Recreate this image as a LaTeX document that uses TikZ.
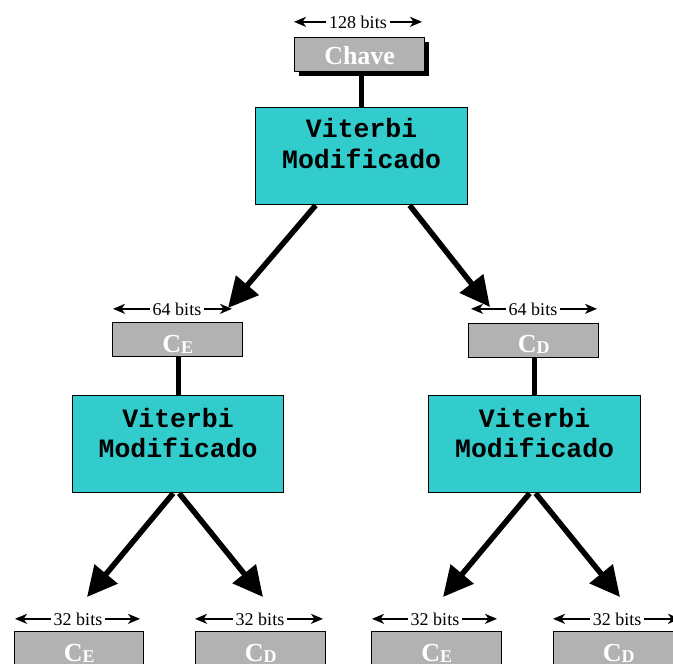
\documentclass[tikz,border=0pt]{standalone}
\usepackage{fontspec}
\setmainfont{Liberation Serif}
\newfontfamily\monob{Liberation Mono}
\usetikzlibrary{arrows.meta,shadows,calc}
\definecolor{boxgray}{HTML}{B2B2B2}
\definecolor{vcyan}{HTML}{33CCCC}
\newcommand{\mysub}[1]{\raisebox{-1.5pt}{\fontsize{18}{18}\selectfont #1}}
\begin{document}
\begin{tikzpicture}[x=1pt,y=-1pt,
  graybox/.style={draw=black, line width=1.3pt, fill=boxgray, minimum width=130pt, minimum height=34pt, inner sep=0pt, anchor=north west},
  vbox/.style={draw=black, line width=1.3pt, fill=vcyan, minimum width=212pt, minimum height=97pt, inner sep=0pt, anchor=north west},
  vtxt/.style={font=\monob\bfseries\fontsize{26.5}{26.5}\selectfont, anchor=base, inner sep=0pt},
  ctxt/.style={font=\bfseries\fontsize{26}{26}\selectfont, text=white, anchor=base, inner sep=0pt},
  bitstxt/.style={font=\fontsize{18}{18}\selectfont, inner sep=0pt, anchor=base},
  dimarrow/.style={line width=1.7pt, -{Stealth[length=12pt,width=10pt,inset=3.5pt]}},
  bigarrow/.style={line width=5.5pt, -{Triangle[length=30pt,width=29pt]}},
  link/.style={line width=5pt}
]
\useasboundingbox (0,0) rectangle (673,664);
\clip (0,0) rectangle (673,664);

% boxes
\node[graybox, drop shadow={shadow xshift=4pt, shadow yshift=-4pt, fill=black, opacity=1}] (chave) at (294,37) {};
\node[vbox] (vit1) at (255,107) {};
\node[graybox] (ce1) at (112,322) {};
\node[graybox] (cd1) at (468,323) {};
\node[vbox, minimum width=211pt] (vit2) at (72,395) {};
\node[vbox] (vit3) at (428,395) {};
\node[graybox, minimum width=129pt] (b1) at (14,631) {};
\node[graybox] (b2) at (195,631) {};
\node[graybox] (b3) at (371,631) {};
\node[graybox] (b4) at (553,631) {};

% box texts
\node[ctxt] at ($(chave.north)+(0,27)$) {Chave};
\node[vtxt] at ($(vit1.north)+(0,30)$) {Viterbi};
\node[vtxt] at ($(vit1.north)+(0,61)$) {Modificado};
\node[vtxt] at ($(vit2.north)+(0,32)$) {Viterbi};
\node[vtxt] at ($(vit2.north)+(0,62)$) {Modificado};
\node[vtxt] at ($(vit3.north)+(0,32)$) {Viterbi};
\node[vtxt] at ($(vit3.north)+(0,62)$) {Modificado};
\node[ctxt] at ($(ce1.north)+(0,30)$) {C\mysub{E}};
\node[ctxt] at ($(cd1.north)+(0,29)$) {C\mysub{D}};
\node[ctxt] at ($(b1.north)+(0,30)$) {C\mysub{E}};
\node[ctxt] at ($(b2.north)+(0,30)$) {C\mysub{D}};
\node[ctxt] at ($(b3.north)+(0,30)$) {C\mysub{E}};
\node[ctxt] at ($(b4.north)+(0,30)$) {C\mysub{D}};

% vertical links
\draw[link] (vit1.north) -- (vit1.north |- chave.south);
\draw[link] (vit2.north) -- (vit2.north |- ce1.south);
\draw[link] (vit3.north) -- (vit3.north |- cd1.south);

% dimension labels
\node[bitstxt] (d0) at (358,28) {128 bits};
\node[bitstxt] (d1) at (177,315) {64 bits};
\node[bitstxt] (d2) at (533,315) {64 bits};
\node[bitstxt] (e1) at (78,625) {32 bits};
\node[bitstxt] (e2) at (260,625) {32 bits};
\node[bitstxt] (e3) at (435,625) {32 bits};
\node[bitstxt] (e4) at (617,625) {32 bits};
\coordinate (d0l) at (294,0); \coordinate (d0r) at (422,0);
\coordinate (d1l) at (113,0); \coordinate (d1r) at (232,0);
\coordinate (d2l) at (471,0); \coordinate (d2r) at (597,0);
\coordinate (e1l) at (15,0);  \coordinate (e1r) at (140,0);
\coordinate (e2l) at (195,0); \coordinate (e2r) at (323,0);
\coordinate (e3l) at (372,0); \coordinate (e3r) at (497,0);
\coordinate (e4l) at (553,0); \coordinate (e4r) at (680,0);
\foreach \n in {d0,d1,d2,e1,e2,e3,e4}{
  \draw[dimarrow] ([xshift=-3pt]\n.west) -- (\n.west -| \n l);
  \draw[dimarrow] ([xshift=3pt]\n.east) -- (\n.east -| \n r);
}

% big arrows
\coordinate (t1) at (228,308);
\coordinate (t2) at (490,307);
\coordinate (t3) at (87,597);
\coordinate (t4) at (263,597);
\coordinate (t5) at (443,597);
\coordinate (t6) at (620,597);
\draw[bigarrow] ([xshift=-46pt]vit1.south) -- (t1);
\draw[bigarrow] ([xshift=48pt]vit1.south) -- (t2);
\draw[bigarrow] ([xshift=-5pt]vit2.south) -- (t3);
\draw[bigarrow] ([xshift=1pt]vit2.south) -- (t4);
\draw[bigarrow] ([xshift=-5pt]vit3.south) -- (t5);
\draw[bigarrow] ([xshift=1pt]vit3.south) -- (t6);
\end{tikzpicture}
\end{document}
